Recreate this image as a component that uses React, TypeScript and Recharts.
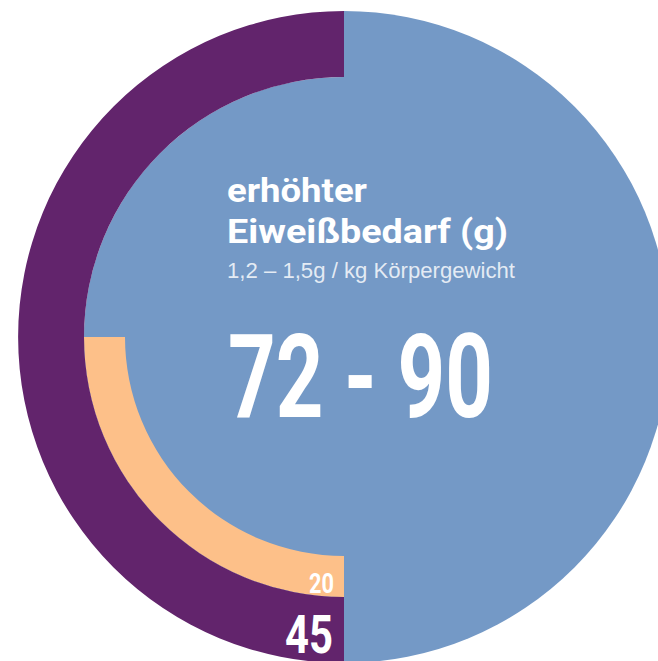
import { PieChart, Pie, Cell } from 'recharts'

const rangeValues = [72, 90]
const baseValues = [45]
const lowValues = [20]
const titleLines = ['erhöhter', 'Eiweißbedarf (g)']
const subtitle = '1,2 – 1,5g / kg Körpergewicht'

const blue = 'rgb(116, 153, 198)'
const purple = 'rgb(98, 36, 108)'
const orange = 'rgb(253, 192, 137)'

const cx = 344
const cy = 337

const headFont = 'Roboto, "DejaVu Sans", sans-serif'

export default function App() {
  const highData = [{ name: 'erhöhter Eiweißbedarf', value: rangeValues[1] }]
  const baseData = baseValues.map((v) => ({ name: 'Grundbedarf', value: v }))
  const lowData = lowValues.map((v) => ({ name: 'Minimum', value: v }))

  // condensed look: squeeze the bold face into the widths seen in the picture
  const squeeze = (w: number) => ({ textLength: w, lengthAdjust: 'spacingAndGlyphs' as const })

  return (
    <div style={{ position: 'absolute', left: 0, top: 0, width: 658, height: 661, overflow: 'hidden', background: '#fff' }}>
      <PieChart width={658} height={661} margin={{ top: 0, right: 0, bottom: 0, left: 0 }}>
        {/* inner disc */}
        <Pie data={highData} dataKey="value" cx={cx} cy={cy} innerRadius={0} outerRadius={260}
          startAngle={90} endAngle={450} stroke="none" isAnimationActive={false}>
          <Cell fill={blue} />
        </Pie>
        {/* 20 ring */}
        <Pie data={lowData} dataKey="value" cx={cx} cy={cy} innerRadius={219} outerRadius={260}
          startAngle={180} endAngle={270} stroke="none" isAnimationActive={false}>
          <Cell fill={orange} />
        </Pie>
        {/* 45 ring */}
        <Pie data={baseData} dataKey="value" cx={cx} cy={cy} innerRadius={260} outerRadius={326}
          startAngle={90} endAngle={270} stroke="none" isAnimationActive={false}>
          <Cell fill={purple} />
        </Pie>
        {/* right half */}
        <Pie data={highData} dataKey="value" cx={cx} cy={cy} innerRadius={0} outerRadius={326}
          startAngle={90} endAngle={-90} stroke="none" isAnimationActive={false}>
          <Cell fill={blue} />
        </Pie>
      </PieChart>

      {/* text overlay */}
      <svg width={658} height={661} style={{ position: 'absolute', left: 0, top: 0, pointerEvents: 'none' }}>
        <text x={227} y={202} fill="#fff" fontFamily={headFont} fontWeight={700} fontSize={33} {...squeeze(140)}>{titleLines[0]}</text>
        <text x={227} y={243} fill="#fff" fontFamily={headFont} fontWeight={700} fontSize={33} {...squeeze(281)}>{titleLines[1]}</text>
        <text x={227} y={278} fill="rgba(255,255,255,0.82)" fontFamily='"Liberation Sans", Arial, sans-serif' fontWeight={400} fontSize={22} {...squeeze(288)}>{subtitle}</text>
        <text x={228} y={417} fill="#fff" fontFamily={headFont} fontWeight={700} fontSize={116} {...squeeze(265)}>{`${rangeValues[0]} - ${rangeValues[1]}`}</text>
        <text x={309} y={593} fill="#fff" fontFamily={headFont} fontWeight={700} fontSize={28} {...squeeze(25)}>{lowValues[0]}</text>
        <text x={285} y={653} fill="#fff" fontFamily={headFont} fontWeight={700} fontSize={53} {...squeeze(48)}>{baseValues[0]}</text>
      </svg>
    </div>
  )
}
